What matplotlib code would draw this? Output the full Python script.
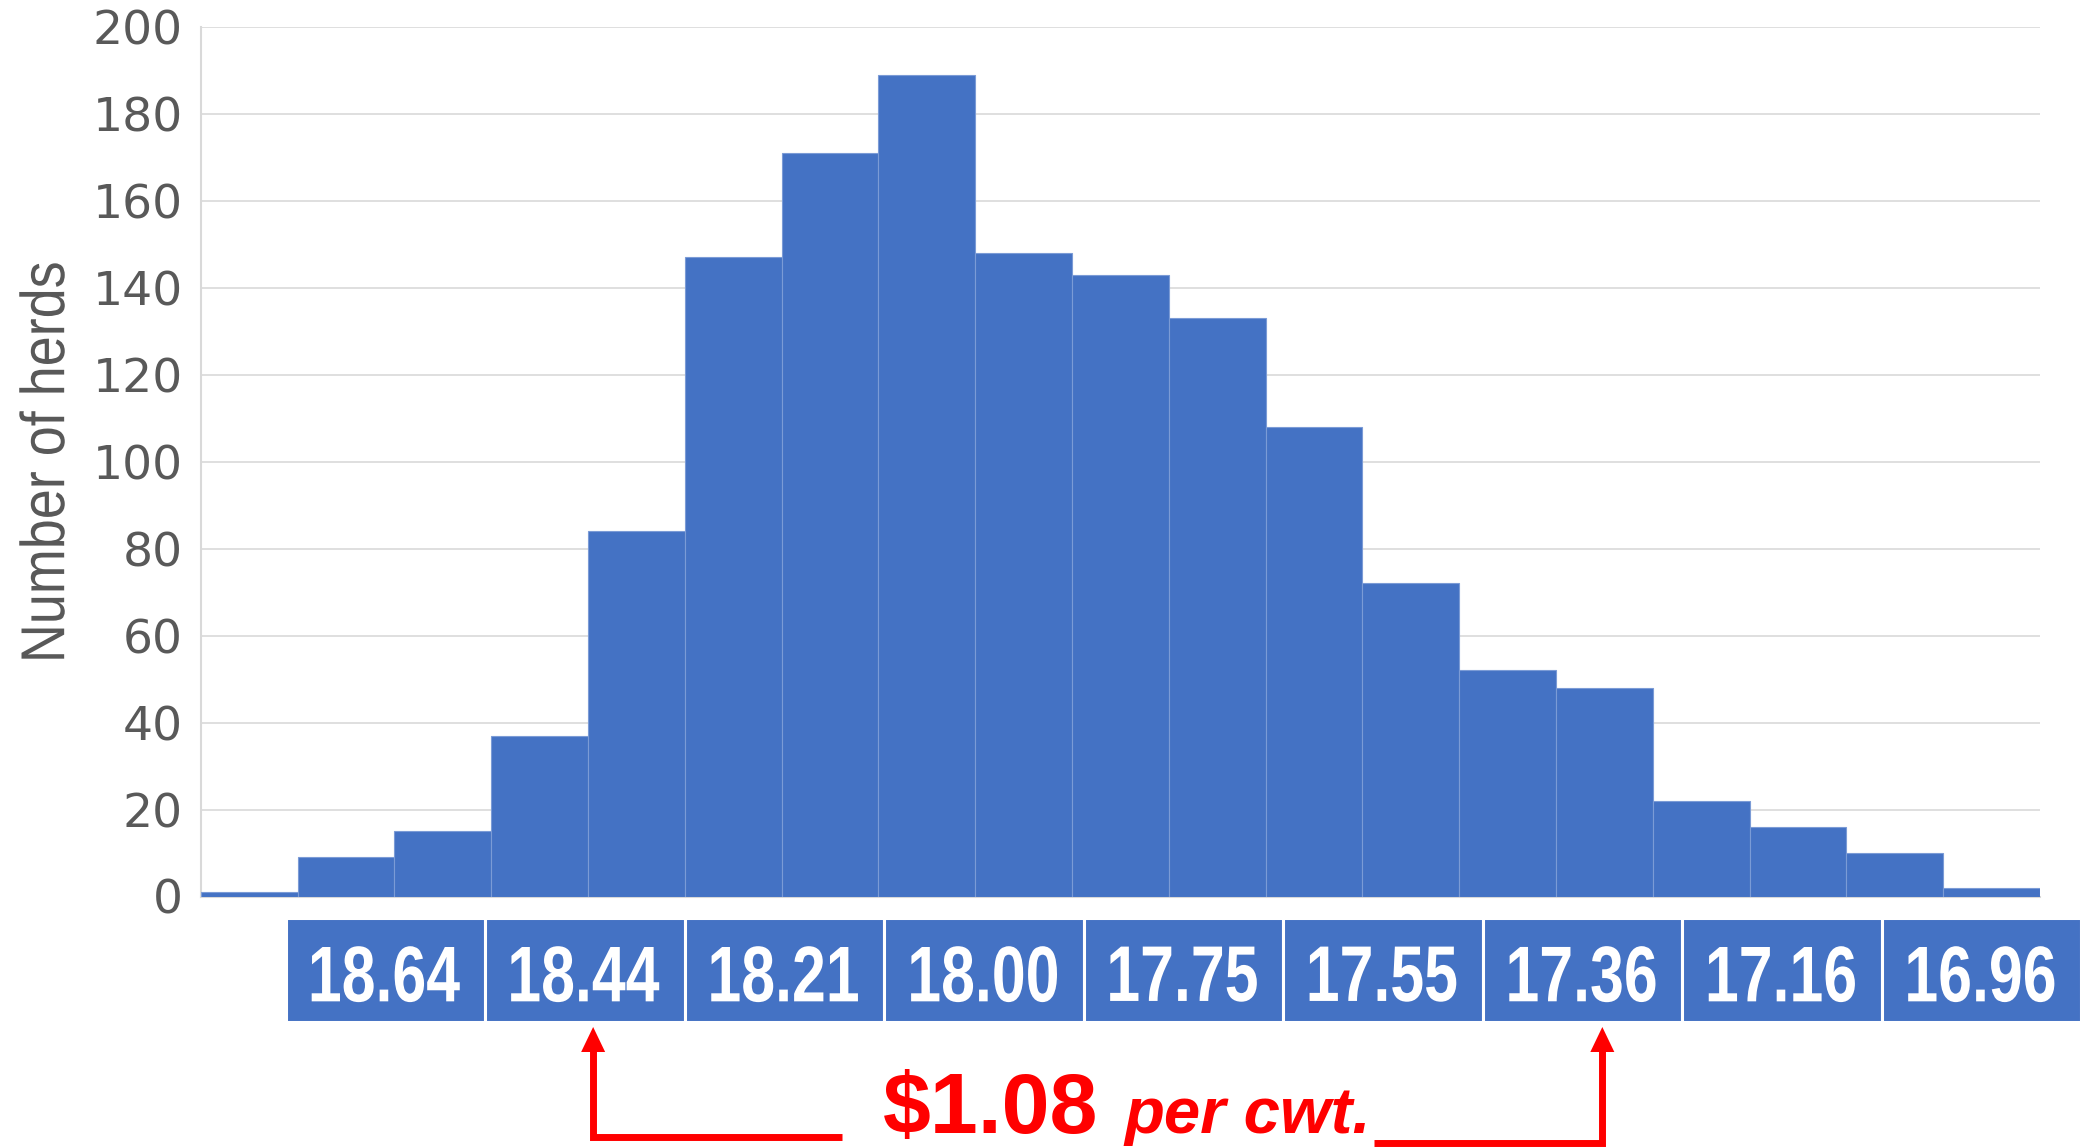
import matplotlib
matplotlib.use("Agg")
import matplotlib.pyplot as plt
from matplotlib.font_manager import FontProperties
from matplotlib.textpath import TextPath
from matplotlib.patches import PathPatch
from matplotlib.transforms import Affine2D, ScaledTranslation

# herd counts per cost bin (19 bins, left = highest cost)
counts = [1, 9, 15, 37, 84, 147, 171, 189, 148, 143, 133, 108, 72, 52, 48, 22, 16, 10, 2]
# price labels shown in the strip under the histogram
price_labels = ["18.64", "18.44", "18.21", "18.00", "17.75", "17.55", "17.36", "17.16", "16.96"]
yticks = list(range(0, 201, 20))
diff_text = "$1.08"
unit_text = "per cwt."

BLUE = "#4472C4"
GREY = "#595959"
RED = "#FF0000"

W, H = 2098, 1147
fig = plt.figure(figsize=(W / 100, H / 100), dpi=100)


def narrow_text(ax, x, y, s, px, squeeze, color, weight="normal", rotate=0):
    # no narrow font installed, so squeeze a Liberation Sans outline by hand
    path = TextPath((0, 0), s, size=px, prop=FontProperties(family="Liberation Sans", weight=weight))
    ext = path.get_extents()
    cx, cy = (ext.x0 + ext.x1) / 2, (ext.y0 + ext.y1) / 2
    tr = (Affine2D().translate(-cx, -cy).scale(squeeze, 1).rotate_deg(rotate)
          + ScaledTranslation(x, y, ax.transData if ax is not None else fig.transFigure))
    patch = PathPatch(path, transform=tr, facecolor=color, edgecolor="none", clip_on=False)
    fig.add_artist(patch)


# main histogram
ax = fig.add_axes([200.7 / W, 1 - 896.5 / H, (2040 - 200.7) / W, (896.5 - 26.8) / H])
ax.bar(range(len(counts)), counts, width=1.0, align="edge", color=BLUE,
       edgecolor="#7b9bd6", linewidth=0.8, zorder=3)
ax.set_xlim(0, len(counts))
ax.set_ylim(0, 200)
ax.set_yticks(yticks)
ax.set_xticks([])
ax.yaxis.grid(True, color="#d9d9d9", linewidth=1.2, zorder=0)
ax.tick_params(axis="y", length=0, pad=13, labelsize=34, labelcolor=GREY)
for s in ["top", "right"]:
    ax.spines[s].set_visible(False)
for s in ["left", "bottom"]:
    ax.spines[s].set_color("#d9d9d9")
    ax.spines[s].set_linewidth(1.5)

# y axis title (condensed look)
narrow_text(None, 42 / W, 1 - 461 / H, "Number of herds", 62, 0.87, GREY, rotate=90)

# price label strip
x0, x1, ytop, ybot = 286, 2081, 918, 1022
lab = fig.add_axes([x0 / W, 1 - ybot / H, (x1 - x0) / W, (ybot - ytop) / H])
n = len(price_labels)
lab.bar(range(n), [1] * n, width=1.0, align="edge", color=BLUE, edgecolor="white", linewidth=2.2)
lab.set_xlim(0, n)
lab.set_ylim(0, 1)
lab.axis("off")
for i, t in enumerate(price_labels):
    narrow_text(lab, i + 0.5, 0.46, t, 79, 0.77, "white", weight="bold")

# bracket showing the difference between the two marked prices
cell = (x1 - x0) / n
hgt = ybot - ytop
ly = -(1137 - ybot) / hgt
ry = -(1143 - ybot) / hgt
lx, rx = 1.54, 6.6
tip = -(1027 - ybot) / hgt
head_w = 12 / cell
head_h = 25 / hgt
lab.plot([lx, lx, (842 - x0) / cell], [tip - head_h + 0.02, ly, ly], color=RED, lw=5,
         solid_joinstyle="miter", solid_capstyle="butt", clip_on=False)
lab.plot([(1374 - x0) / cell, rx, rx], [ry, ry, tip - head_h + 0.02], color=RED, lw=5,
         solid_joinstyle="miter", solid_capstyle="butt", clip_on=False)
for xa in (lx, rx):
    lab.fill([xa - head_w, xa, xa + head_w], [tip - head_h, tip, tip - head_h],
             color=RED, lw=0, clip_on=False)
base = -(1133 - ybot) / hgt
lab.text((883 - x0) / cell, base, diff_text, ha="left", va="baseline", color=RED,
         fontsize=62, fontweight="bold", family="Liberation Sans", clip_on=False)
lab.text((1124 - x0) / cell, base, unit_text, ha="left", va="baseline", color=RED,
         fontsize=47, fontweight="bold", style="italic", family="Liberation Sans", clip_on=False)

fig.savefig("out.png", dpi=100)
